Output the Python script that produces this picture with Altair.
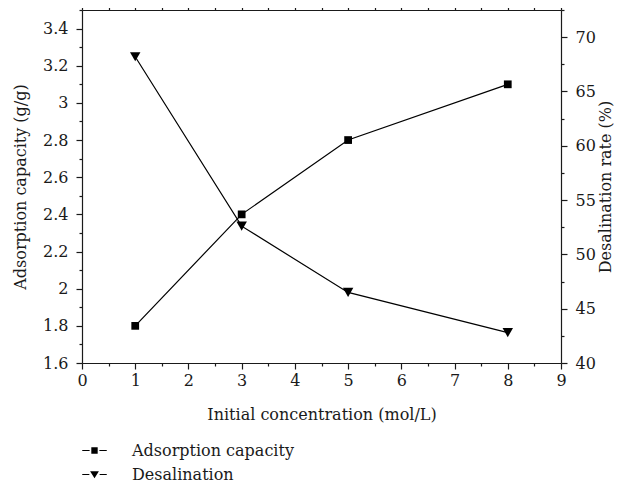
import altair as alt
import pandas as pd

conc = [1, 3, 5, 8]
adsorption = [1.8, 2.4, 2.8, 3.1]
desalination = [68.2, 52.6, 46.5, 42.8]
series_names = ["Adsorption capacity", "Desalination"]

x_major = [0, 1, 2, 3, 4, 5, 6, 7, 8, 9]
x_minor = [0.5, 1.5, 2.5, 3.5, 4.5, 5.5, 6.5, 7.5, 8.5]
left_major = [1.6, 1.8, 2.0, 2.2, 2.4, 2.6, 2.8, 3.0, 3.2, 3.4]
left_minor = [1.7, 1.9, 2.1, 2.3, 2.5, 2.7, 2.9, 3.1, 3.3, 3.5]
right_major = [40, 45, 50, 55, 60, 65, 70]
right_minor = [42.5, 47.5, 52.5, 57.5, 62.5, 67.5, 72.5]

x_domain = [0, 9]
left_domain = [1.6, 3.5]
right_domain = [40, 72.5]

FONT = "DejaVu Serif"
INK = "#1a1a1a"
FS = 16

df_a = pd.DataFrame({"x": conc, "y": adsorption, "series": series_names[0]})
df_d = pd.DataFrame({"x": conc, "y": desalination, "series": series_names[1]})
df_all = pd.concat([df_a, df_d], ignore_index=True)

xs = alt.Scale(domain=x_domain, nice=False, zero=False)
ys_left = alt.Scale(domain=left_domain, nice=False, zero=False)
ys_right = alt.Scale(domain=right_domain, nice=False, zero=False)

lbl = "datum.value + ''"
common = dict(ticks=True, tickColor=INK, tickWidth=1.2, domainColor=INK, domainWidth=1.2,
              labelFont=FONT, labelFontSize=FS, labelColor=INK, titleFont=FONT,
              titleFontSize=FS, titleFontWeight="normal", titleColor=INK, grid=False,
              labelFlush=False)

ax_bottom = alt.Axis(orient="bottom", values=x_major, tickSize=6, labelPadding=3,
                     labelExpr=lbl, title="Initial concentration (mol/L)", titlePadding=18,
                     **common)
ax_bottom_minor = alt.Axis(orient="bottom", values=x_minor, tickSize=3, labels=False,
                           domain=False, title=None, **common)
ax_top = alt.Axis(orient="top", values=x_major, tickSize=6, labels=False, title=None,
                  **common)
ax_top_minor = alt.Axis(orient="top", values=x_minor, tickSize=3, labels=False,
                        domain=False, title=None, **common)
ay_left = alt.Axis(orient="left", values=left_major, tickSize=6, labelPadding=8,
                   labelExpr=lbl, title="Adsorption capacity (g/g)", titlePadding=14,
                   **common)
ay_left_minor = alt.Axis(orient="left", values=left_minor, tickSize=3, labels=False,
                         domain=False, title=None, **common)
ay_right = alt.Axis(orient="right", values=right_major, tickSize=6, labelPadding=8,
                    labelExpr=lbl, title="Desalination rate (%)", titlePadding=2,
                    titleAngle=270, titleBaseline="top", **common)
ay_right_minor = alt.Axis(orient="right", values=right_minor, tickSize=3, labels=False,
                          domain=False, title=None, **common)

line_a = alt.Chart(df_a).mark_line(color="black", strokeWidth=1.2).encode(
    x=alt.X("x:Q", scale=xs, axis=ax_bottom),
    y=alt.Y("y:Q", scale=ys_left, axis=ay_left),
)
pts_a = alt.Chart(df_a).mark_point(shape="square", filled=True, color="black",
                                   size=60, opacity=1).encode(
    x=alt.X("x:Q", scale=xs, axis=None),
    y=alt.Y("y:Q", scale=ys_left, axis=None),
)
line_d = alt.Chart(df_d).mark_line(color="black", strokeWidth=1.2).encode(
    x=alt.X("x:Q", scale=xs, axis=ax_top),
    y=alt.Y("y:Q", scale=ys_right, axis=ay_right),
)
pts_d = alt.Chart(df_d).mark_point(shape="triangle-down", filled=True, color="black",
                                   size=110, opacity=1).encode(
    x=alt.X("x:Q", scale=xs, axis=None),
    y=alt.Y("y:Q", scale=ys_right, axis=None),
)

sq_path = ("M-1,-0.045H-0.4V0.045H-1Z M0.4,-0.045H1V0.045H0.4Z "
           "M-0.26,-0.26H0.26V0.26H-0.26Z")
tri_path = ("M-1,-0.045H-0.42V0.045H-1Z M0.42,-0.045H1V0.045H0.42Z "
            "M-0.36,-0.26L0.36,-0.26L0,0.3Z")

legend_layer = alt.Chart(df_all).mark_point(filled=True, color="black", opacity=0).encode(
    x=alt.X("x:Q", scale=xs, axis=ax_bottom_minor),
    y=alt.Y("y:Q", scale=ys_left, axis=ay_left_minor),
    shape=alt.Shape(
        "series:N",
        scale=alt.Scale(domain=series_names, range=[sq_path, tri_path]),
        legend=alt.Legend(
            title=None, orient="none", legendX=0, legendY=428,
            symbolSize=600, symbolStrokeWidth=0, symbolFillColor="black",
            symbolOpacity=1, labelOffset=25,
            labelFontSize=FS, labelFont=FONT, labelColor=INK, rowPadding=3,
            padding=0, labelLimit=400,
        ),
    ),
)
minor_right = alt.Chart(df_d).mark_point(color="black", opacity=0).encode(
    x=alt.X("x:Q", scale=xs, axis=ax_top_minor),
    y=alt.Y("y:Q", scale=ys_right, axis=ay_right_minor),
)

chart = alt.layer(line_a, pts_a, line_d, pts_d, legend_layer, minor_right).resolve_scale(
    y="independent"
).resolve_axis(
    x="independent", y="independent"
).properties(
    width=479, height=353,
    autosize=alt.AutoSizeParams(type="none"),
    padding={"left": 74, "top": 2, "right": 57, "bottom": 121},
).configure_view(
    stroke=None
)

chart.save("out.html", embed_options={"renderer": "svg", "actions": False})
